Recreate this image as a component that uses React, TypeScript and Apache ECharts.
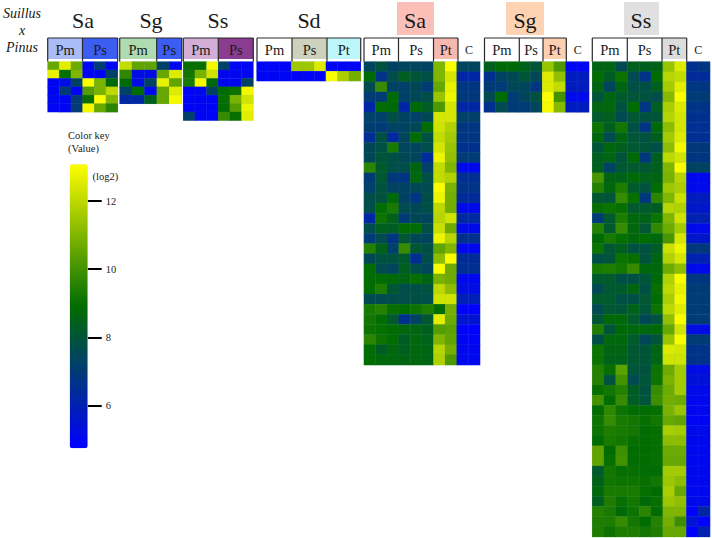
import React, { useEffect, useRef } from "react";
import * as echarts from "echarts";

// ---------- data: log2 values, one inner list per row ----------
const groupNames = ["Pm", "Ps", "Pt", "C"];
const keyTicks = [6, 8, 10, 12];
const valueMin = 4.74;
const valueMax = 13.08;

const saPair = [
  [10.6, 12.6, 10.7, 4.9, 7.0, 4.9],
  [12.7, 9.0, 11.0, 4.9, 4.9, 7.2],
  [4.9, 5.2, 7.3, 13.0, 10.9, 8.8],
  [4.9, 7.0, 4.9, 10.3, 10.9, 12.0],
  [5.0, 4.9, 7.0, 9.0, 13.0, 11.0],
  [4.9, 4.9, 7.0, 12.9, 10.6, 9.6],
];
const sgPair = [
  [12.1, 10.5, 10.5, 7.2, 4.9],
  [9.7, 5.2, 5.2, 10.6, 12.5],
  [8.9, 5.2, 7.3, 12.7, 10.5],
  [7.3, 8.9, 5.0, 10.6, 12.5],
  [6.3, 6.3, 8.4, 10.6, 12.9],
];
const ssPair = [
  [9.0, 9.0, 12.9, 7.2, 4.9, 4.9],
  [9.2, 10.9, 12.3, 5.0, 5.0, 5.0],
  [9.3, 12.9, 8.8, 5.0, 5.0, 7.3],
  [4.9, 5.0, 7.3, 8.9, 9.1, 12.9],
  [4.9, 4.9, 4.9, 9.0, 10.9, 12.3],
  [4.9, 4.9, 4.9, 8.9, 10.3, 12.8],
  [7.2, 4.9, 4.9, 9.8, 9.0, 12.6],
];
const sdTriple = [
  [4.9, 4.9, 4.9, 11.5, 11.5, 12.5, 4.9, 4.9, 4.9],
  [4.9, 4.9, 4.9, 4.9, 4.9, 4.9, 13.0, 11.7, 10.8],
];
const saFull = [
  [7.4, 7.9, 7.3, 7.4, 7.4, 7.3, 11.0, 13.0, 7.4, 7.4],
  [8.8, 6.7, 7.7, 8.4, 8.0, 7.8, 11.0, 12.4, 6.2, 6.2],
  [7.6, 9.8, 7.3, 7.2, 7.5, 7.0, 10.6, 12.7, 6.8, 6.8],
  [7.0, 7.0, 8.9, 7.2, 7.5, 7.7, 11.4, 12.8, 6.9, 6.9],
  [6.2, 8.9, 8.8, 6.2, 8.8, 8.3, 10.2, 12.4, 6.2, 6.2],
  [7.2, 7.2, 7.8, 7.3, 7.2, 7.5, 12.4, 12.4, 7.2, 7.2],
  [7.1, 7.0, 7.3, 7.3, 7.5, 8.9, 12.3, 11.8, 6.8, 6.8],
  [6.5, 7.8, 6.3, 7.4, 8.9, 7.8, 12.1, 11.6, 6.8, 6.8],
  [7.5, 7.8, 9.3, 7.4, 7.4, 7.7, 12.4, 11.4, 6.6, 6.6],
  [7.5, 8.0, 7.8, 7.5, 7.4, 6.4, 12.8, 11.3, 7.0, 7.0],
  [9.6, 8.2, 7.7, 7.7, 8.6, 7.2, 12.1, 11.0, 5.1, 5.1],
  [7.0, 8.1, 6.9, 6.8, 8.7, 7.8, 12.1, 11.8, 6.5, 6.5],
  [7.2, 7.9, 7.3, 7.3, 7.5, 7.6, 13.0, 10.9, 6.7, 6.7],
  [7.7, 7.9, 8.8, 7.3, 6.8, 7.8, 12.8, 10.8, 6.4, 6.4],
  [7.7, 8.9, 9.3, 7.6, 7.5, 7.8, 12.0, 10.8, 5.1, 5.1],
  [6.2, 9.1, 8.5, 7.0, 7.5, 7.4, 11.9, 12.3, 6.3, 6.3],
  [7.7, 8.4, 8.3, 8.9, 8.9, 7.8, 12.2, 10.7, 5.1, 5.1],
  [7.0, 7.6, 6.8, 8.1, 7.5, 7.4, 12.8, 11.9, 6.6, 6.6],
  [9.5, 8.5, 7.2, 9.8, 8.1, 7.8, 10.5, 11.0, 5.0, 5.0],
  [7.5, 7.9, 7.9, 8.2, 6.5, 7.7, 11.2, 13.0, 6.4, 6.4],
  [8.9, 7.6, 7.4, 8.4, 7.7, 7.4, 13.0, 10.7, 6.5, 6.5],
  [8.9, 8.9, 8.8, 8.6, 9.0, 8.6, 10.9, 10.7, 5.0, 5.0],
  [8.9, 9.4, 8.1, 7.7, 7.8, 7.9, 12.0, 11.2, 5.2, 5.2],
  [7.6, 7.6, 7.7, 7.7, 7.8, 7.7, 12.3, 12.3, 5.9, 5.9],
  [9.3, 9.5, 9.0, 8.9, 9.1, 9.4, 8.9, 10.8, 4.8, 4.8],
  [9.2, 8.9, 8.2, 6.6, 7.3, 8.1, 12.6, 10.7, 5.5, 5.5],
  [9.1, 9.0, 8.9, 8.7, 8.6, 8.4, 10.3, 10.4, 4.8, 4.8],
  [9.6, 9.1, 8.9, 8.3, 8.7, 8.5, 11.0, 10.5, 4.9, 4.9],
  [8.9, 8.3, 8.7, 8.4, 8.7, 8.6, 11.9, 10.8, 5.0, 5.0],
  [8.9, 8.7, 8.7, 8.6, 8.7, 8.6, 11.8, 10.2, 5.0, 5.0],
];
const sgFull = [
  [8.4, 8.8, 8.8, 8.5, 8.0, 11.4, 10.2, 4.9, 4.9],
  [6.6, 7.3, 7.5, 8.0, 7.5, 12.5, 11.3, 5.8, 5.8],
  [7.0, 7.0, 7.5, 7.4, 6.8, 12.5, 12.1, 5.8, 5.8],
  [7.6, 8.9, 7.0, 7.4, 7.9, 13.0, 10.0, 5.1, 5.1],
  [6.6, 7.6, 7.0, 7.0, 7.4, 12.9, 11.1, 5.8, 5.8],
];
const ssFull = [
  [8.6, 8.6, 7.6, 8.4, 8.4, 8.5, 11.4, 12.5, 6.6, 6.8],
  [8.9, 8.3, 9.1, 7.6, 6.7, 8.9, 11.9, 12.1, 6.4, 6.4],
  [8.6, 7.4, 8.6, 7.8, 7.8, 8.4, 11.6, 12.6, 6.8, 6.8],
  [8.0, 8.6, 8.2, 8.0, 7.9, 7.7, 11.1, 13.0, 7.0, 7.0],
  [8.6, 8.7, 7.9, 8.9, 6.8, 8.4, 11.7, 12.5, 6.7, 6.7],
  [8.2, 8.4, 7.6, 8.1, 7.9, 8.0, 11.9, 12.4, 6.6, 6.6],
  [9.1, 8.4, 9.2, 7.8, 6.8, 8.8, 11.2, 12.4, 6.5, 6.5],
  [8.7, 7.6, 8.6, 8.0, 7.9, 8.4, 11.6, 12.5, 6.5, 6.5],
  [8.0, 8.7, 8.4, 8.1, 8.0, 7.7, 11.2, 12.9, 6.9, 6.9],
  [8.4, 8.6, 8.0, 8.8, 6.9, 8.4, 12.0, 12.3, 6.8, 6.8],
  [8.4, 7.3, 8.1, 8.2, 8.1, 8.4, 11.0, 13.0, 7.3, 7.3],
  [10.1, 8.6, 8.5, 8.8, 8.5, 8.6, 10.9, 11.9, 5.0, 5.0],
  [9.5, 8.7, 9.4, 8.2, 7.9, 8.9, 11.5, 11.7, 5.1, 5.1],
  [8.1, 8.0, 9.8, 9.0, 6.9, 9.6, 11.0, 12.2, 5.8, 5.8],
  [9.0, 9.1, 9.0, 8.2, 8.2, 8.3, 11.9, 11.8, 5.6, 5.6],
  [7.0, 8.2, 9.4, 8.7, 8.5, 9.1, 11.0, 12.3, 6.0, 6.0],
  [9.5, 8.2, 9.8, 8.7, 8.1, 9.7, 10.7, 11.6, 5.1, 5.1],
  [8.8, 9.3, 9.0, 8.7, 8.9, 8.7, 10.1, 12.4, 5.6, 5.6],
  [9.1, 8.1, 8.4, 7.9, 7.9, 8.3, 12.2, 12.8, 6.9, 6.9],
  [7.8, 8.0, 9.1, 9.0, 7.9, 8.6, 11.8, 12.4, 6.0, 6.0],
  [9.3, 9.4, 9.2, 9.8, 8.7, 8.7, 10.7, 11.2, 5.1, 5.1],
  [8.2, 8.2, 7.8, 7.8, 8.0, 8.8, 11.8, 13.0, 6.8, 6.8],
  [7.6, 8.1, 8.2, 8.6, 7.8, 9.0, 12.0, 12.7, 7.0, 7.0],
  [8.2, 8.2, 7.8, 7.8, 8.1, 8.9, 11.7, 12.9, 7.0, 7.0],
  [7.6, 8.1, 8.0, 8.5, 8.0, 9.1, 12.0, 12.6, 7.0, 7.0],
  [8.0, 8.8, 8.8, 8.2, 7.5, 7.9, 11.3, 13.0, 7.0, 7.0],
  [9.4, 8.0, 8.8, 8.7, 8.7, 8.8, 10.6, 12.3, 5.2, 5.2],
  [7.8, 8.7, 8.7, 8.2, 7.5, 8.0, 11.4, 13.0, 7.0, 7.0],
  [9.1, 8.6, 8.6, 8.1, 8.0, 8.6, 12.5, 12.4, 6.7, 6.7],
  [9.1, 8.5, 8.5, 8.1, 8.0, 8.6, 12.3, 12.3, 6.7, 6.7],
  [9.5, 9.0, 10.4, 8.0, 7.9, 9.1, 10.7, 11.6, 5.2, 5.2],
  [9.5, 7.9, 10.0, 7.6, 8.0, 9.1, 10.9, 11.6, 5.4, 5.4],
  [9.0, 9.2, 9.5, 8.3, 7.9, 9.8, 10.7, 11.6, 5.1, 5.1],
  [10.0, 8.9, 9.8, 8.3, 8.0, 9.9, 10.8, 10.7, 5.0, 5.0],
  [8.9, 9.7, 9.1, 8.9, 8.9, 9.0, 10.9, 11.4, 5.0, 5.0],
  [9.1, 9.8, 9.3, 9.2, 9.0, 9.2, 10.6, 10.5, 4.9, 4.9],
  [9.1, 9.4, 9.3, 9.2, 8.9, 9.0, 11.7, 11.6, 5.1, 5.1],
  [8.9, 9.3, 9.2, 9.0, 8.9, 9.0, 11.2, 11.2, 5.0, 5.0],
  [10.5, 8.9, 9.9, 8.9, 8.9, 9.0, 10.7, 10.7, 5.0, 5.0],
  [10.5, 9.0, 10.0, 8.9, 8.9, 9.0, 10.6, 10.6, 5.0, 5.0],
  [8.2, 9.2, 9.0, 9.0, 8.9, 8.9, 11.6, 11.6, 5.0, 5.0],
  [8.5, 9.2, 9.1, 9.1, 9.0, 9.2, 11.5, 11.2, 5.0, 5.0],
  [8.7, 9.3, 9.3, 9.3, 9.0, 8.9, 11.7, 10.6, 5.0, 5.0],
  [8.4, 9.4, 9.0, 9.2, 8.8, 9.0, 11.5, 11.3, 5.1, 5.1],
  [9.5, 9.3, 8.8, 9.1, 9.6, 8.9, 11.0, 11.0, 4.74, 6.2],
  [9.4, 9.4, 9.8, 9.2, 8.9, 9.5, 10.8, 9.9, 5.5, 4.8],
  [9.4, 9.1, 9.4, 9.4, 9.2, 9.4, 10.6, 10.6, 4.74, 6.0],
];

// ---------- layout and styling ----------
const FONT = '"Liberation Serif", "Times New Roman", serif';
const BODY_TOP = 61.7;
const HEAD_TOP = 38;
const HEAD_FILL_BOTTOM = 59;

type Head = { name: string; x0: number; x1: number; fill: string; boxed: boolean };
type Panel = {
  title: string;
  titleX: number;
  titleBg?: [number, number, string];
  rows: number[][];
  left: number;
  width: number;
  rowH: number;
  heads: Head[];
};

const h = (i: number, x0: number, x1: number, fill = "#ffffff", boxed = true): Head => ({
  name: groupNames[i], x0, x1, fill, boxed,
});

const panels: Panel[] = [
  { title: "Sa", titleX: 83, rows: saPair, left: 47.7, width: 70, rowH: 8.4,
    heads: [h(0, 47.7, 82.5, "#aabcf5"), h(1, 82.5, 117.7, "#3c5df2")] },
  { title: "Sg", titleX: 151, rows: sgPair, left: 119.7, width: 62, rowH: 8.4,
    heads: [h(0, 119.7, 156.7, "#aedcb0"), h(1, 156.7, 181.7, "#3c5df2")] },
  { title: "Ss", titleX: 218, rows: ssPair, left: 183.3, width: 70, rowH: 8.4,
    heads: [h(0, 183.3, 218.3, "#d3aed6"), h(1, 218.3, 253.3, "#8a3c90")] },
  { title: "Sd", titleX: 309, rows: sdTriple, left: 256.7, width: 104, rowH: 9.65,
    heads: [h(0, 257, 292), h(1, 292, 327, "#cdd1bd"), h(2, 327, 360.7, "#bdf6fb")] },
  { title: "Sa", titleX: 415, titleBg: [397, 434, "#fbbfb8"], rows: saFull, left: 364, width: 116, rowH: 10.11,
    heads: [h(0, 364, 398.5), h(1, 398.5, 433.5), h(2, 433.5, 458, "#f7b8b0"), h(3, 458, 480, "#ffffff", false)] },
  { title: "Sg", titleX: 525, titleBg: [506, 544, "#fdd3b4"], rows: sgFull, left: 484, width: 105, rowH: 10.11,
    heads: [h(0, 484.5, 519.3), h(1, 519.3, 543), h(2, 543, 566.3, "#fbcfb0"), h(3, 566.3, 589, "#ffffff", false)] },
  { title: "Ss", titleX: 641, titleBg: [624, 659, "#e0e0e0"], rows: ssFull, left: 592.3, width: 117.7, rowH: 10.11,
    heads: [h(0, 592.3, 627.3), h(1, 627.3, 662), h(2, 662, 686.7, "#dcdcdc"), h(3, 686.7, 710, "#ffffff", false)] },
];

const serifText = (text: string, x: number, y: number, fontSize: number, extra: any = {}) => ({
  type: "text",
  x,
  y,
  silent: true,
  style: { text, fontFamily: FONT, fontSize, fill: "#1a1a1a", align: "center", verticalAlign: "middle", ...extra },
});

function buildOption() {
  const grid: any[] = [];
  const xAxis: any[] = [];
  const yAxis: any[] = [];
  const series: any[] = [];
  const graphic: any[] = [];

  panels.forEach((p, i) => {
    grid.push({ left: p.left, top: BODY_TOP, width: p.width, height: p.rowH * p.rows.length });
    const cols = p.rows[0].map((_, c) => String(c));
    xAxis.push({ type: "category", gridIndex: i, data: cols, show: false });
    yAxis.push({ type: "category", gridIndex: i, data: p.rows.map((_, r) => String(r)), inverse: true, show: false });
    const data: number[][] = [];
    p.rows.forEach((row, r) => row.forEach((v, c) => data.push([c, r, v])));
    series.push({
      type: "heatmap",
      xAxisIndex: i,
      yAxisIndex: i,
      data,
      silent: true,
      itemStyle: { borderWidth: 0.3, borderColor: "rgba(120,160,170,0.25)" },
      emphasis: { disabled: true },
    });

    if (p.titleBg) {
      const [x0, x1, fill] = p.titleBg;
      graphic.push({ type: "rect", shape: { x: x0, y: 2, width: x1 - x0, height: 33 }, style: { fill }, silent: true });
    }
    graphic.push(serifText(p.title, p.titleX, 20, 22));

    p.heads.forEach((hd) => {
      const cx = (hd.x0 + hd.x1) / 2;
      if (hd.boxed) {
        graphic.push({
          type: "rect",
          shape: { x: hd.x0, y: HEAD_TOP, width: hd.x1 - hd.x0, height: HEAD_FILL_BOTTOM - HEAD_TOP },
          style: { fill: hd.fill },
          silent: true,
        });
      }
      graphic.push(serifText(hd.name, cx, 49.5, hd.boxed ? 14.5 : 12));
    });
    const boxed = p.heads.filter((hd) => hd.boxed);
    const line = (x1: number, y1: number, x2: number, y2: number) => ({
      type: "line",
      shape: { x1, y1, x2, y2 },
      style: { stroke: "#2a2a2a", lineWidth: 1.2 },
      silent: true,
    });
    graphic.push(line(boxed[0].x0, HEAD_TOP, boxed[boxed.length - 1].x1, HEAD_TOP));
    boxed.forEach((hd) => graphic.push(line(hd.x0, HEAD_TOP, hd.x0, BODY_TOP)));
    const end = boxed[boxed.length - 1].x1;
    graphic.push(line(end, HEAD_TOP, end, BODY_TOP));
  });

  // colour key axis, sharing the visualMap's scale
  const keyIndex = panels.length;
  grid.push({ left: 69.7, top: 164.3, width: 18, height: 284 });
  xAxis.push({ type: "category", gridIndex: keyIndex, data: ["key"], show: false });
  yAxis.push({
    type: "value",
    gridIndex: keyIndex,
    position: "right",
    min: valueMin,
    max: valueMax,
    splitLine: { show: false },
    axisLine: { show: false },
    axisTick: { show: true, length: 14, customValues: keyTicks, lineStyle: { color: "#000000", width: 2 } },
    axisLabel: {
      show: true,
      margin: 18,
      customValues: keyTicks,
      fontFamily: FONT,
      fontSize: 10.5,
      color: "#1a1a1a",
    },
  });

  graphic.push(serifText("Suillus", 22, 13, 14, { fontStyle: "italic" }));
  graphic.push(serifText("x", 22, 30, 14, { fontStyle: "italic" }));
  graphic.push(serifText("Pinus", 22, 47, 14, { fontStyle: "italic" }));
  graphic.push(serifText("Color key", 68, 135, 10.5, { align: "left" }));
  graphic.push(serifText("(Value)", 68, 148, 10.5, { align: "left" }));
  graphic.push(serifText("(log2)", 92.5, 176.5, 10.5, { align: "left" }));

  return {
    animation: false,
    backgroundColor: "#ffffff",
    grid,
    xAxis,
    yAxis,
    series,
    graphic,
    visualMap: {
      type: "continuous",
      min: valueMin,
      max: valueMax,
      seriesIndex: panels.map((_, i) => i),
      orient: "vertical",
      left: 69.7,
      top: 164.3,
      itemWidth: 18,
      itemHeight: 284,
      padding: 0,
      calculable: false,
      hoverLink: false,
      realtime: false,
      inRange: { color: ["#0000ff", "#006c00", "#ffff00"] },
      borderWidth: 0,
    },
  };
}

export default function App() {
  const ref = useRef<HTMLDivElement>(null);
  useEffect(() => {
    const chart = echarts.init(ref.current!, undefined, { renderer: "svg" });
    chart.setOption(buildOption() as any);
    return () => chart.dispose();
  }, []);
  return <div ref={ref} style={{ position: "absolute", left: 0, top: 0, width: 712, height: 538 }} />;
}
